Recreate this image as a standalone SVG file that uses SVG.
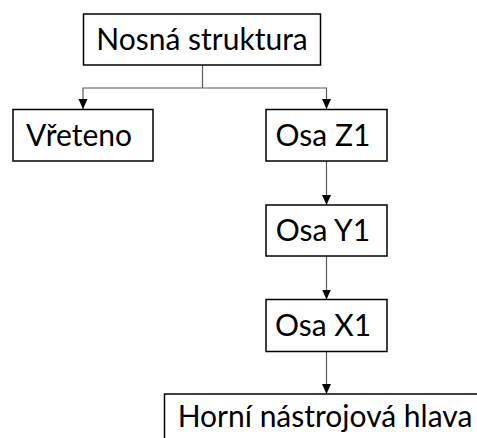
<svg xmlns="http://www.w3.org/2000/svg" width="477" height="438" viewBox="0 0 477 438">
  <defs>
    <style>
      .box { fill: #ffffff; stroke: #000000; stroke-width: 1.5; }
      .label { font-family: Lato, "Liberation Sans", sans-serif; font-size: 30px; fill: #000000; text-anchor: middle; }
      .wire { fill: none; stroke: #5a5a5a; stroke-width: 1.2; }
    </style>
    <marker id="arrow" markerUnits="userSpaceOnUse" markerWidth="10" markerHeight="11" refX="10" refY="5" orient="auto">
      <path d="M0,0.5 L10,5 L0,9.5 Z" fill="#000000"/>
    </marker>
  </defs>
  <rect width="477" height="438" fill="#ffffff"/>

  <g id="connectors">
    <polyline class="wire" points="202.5,65 202.5,88"/>
    <polyline class="wire" points="202.5,88 83,88 83,109" marker-end="url(#arrow)"/>
    <polyline class="wire" points="202.5,88 326.5,88 326.5,109" marker-end="url(#arrow)"/>
    <line class="wire" x1="326.5" y1="161" x2="326.5" y2="205" marker-end="url(#arrow)"/>
    <line class="wire" x1="326.5" y1="256" x2="326.5" y2="299.5" marker-end="url(#arrow)"/>
    <line class="wire" x1="326.5" y1="352" x2="326.5" y2="394" marker-end="url(#arrow)"/>
  </g>

  <g id="nosna-struktura">
    <rect class="box" x="83.5" y="14" width="237" height="51"/>
    <text class="label" x="202" y="50">Nosná struktura</text>
  </g>

  <g id="vreteno">
    <rect class="box" x="13" y="109.5" width="140" height="51.5"/>
    <text class="label" x="79" y="146">Vřeteno</text>
  </g>

  <g id="osa-z1">
    <rect class="box" x="266" y="109.5" width="121" height="51.5"/>
    <text class="label" x="323" y="146">Osa Z1</text>
  </g>

  <g id="osa-y1">
    <rect class="box" x="266" y="205" width="121" height="51"/>
    <text class="label" x="323" y="241">Osa Y1</text>
  </g>

  <g id="osa-x1">
    <rect class="box" x="266" y="299.5" width="121" height="52"/>
    <text class="label" x="323" y="336">Osa X1</text>
  </g>

  <g id="horni-nastrojova-hlava">
    <rect class="box" x="164.5" y="394" width="330" height="60"/>
    <text class="label" x="325" y="427">Horní nástrojová hlava</text>
  </g>
</svg>
